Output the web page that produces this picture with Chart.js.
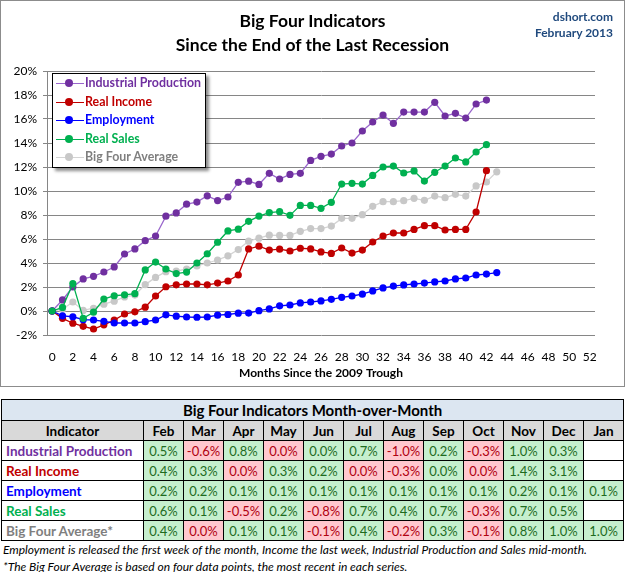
<!DOCTYPE html>
<html>
<head>
<meta charset="utf-8">
<script src="https://cdn.jsdelivr.net/npm/chart.js@4.4.0/dist/chart.umd.min.js"></script>
<style>
  body { margin: 0; background: #fff; font-family: Lato, "Noto Sans", sans-serif; }
  #page { position: relative; width: 625px; height: 572px; overflow: hidden; }
  #box { position: absolute; left: 0; top: 0; width: 623px; height: 385px; border: 1px solid #8c8c8c; }
  #grafico { position: absolute; left: 0; top: 0; }
  #titulo { position: absolute; left: 0; top: 9px; width: 625px; text-align: center; font-weight: bold; font-size: 17.5px; line-height: 24px; color: #000; }
  #fuente { position: absolute; right: 12px; top: 9px; text-align: right; font-weight: bold; font-size: 12px; line-height: 16px; color: #1F497D; }
  #leyenda { position: absolute; left: 52px; top: 73px; width: 152px; height: 93px; border: 1px solid #000; background: #fff; box-shadow: 3px 3px 3px rgba(0,0,0,0.45); }
  .item { position: absolute; left: 0; width: 152px; height: 18px; }
  .item .linea { position: absolute; left: 3px; top: 9px; width: 28px; height: 1px; }
  .item .punto { position: absolute; left: 12px; top: 5px; width: 8px; height: 8px; border-radius: 50%; }
  .item span { position: absolute; left: 32px; top: 0; font-size: 12.4px; line-height: 18px; font-weight: bold; white-space: nowrap; }
  #tabla { position: absolute; left: 1px; top: 399px; border-collapse: collapse; table-layout: fixed; width: 622px; }
  #tabla td, #tabla th { border: 1px solid #000; padding: 0; text-align: center; font-size: 13px; height: 19px; white-space: nowrap; overflow: hidden; }
  #tabla .cab td { background: #DCE6F1; font-weight: bold; font-size: 15px; height: 20px; }
  #tabla .enc th { background: #D9D9D9; font-weight: bold; font-size: 13.5px; height: 19px; }
  #tabla td.nombre { text-align: left; padding-left: 4px; font-weight: bold; font-size: 13.5px; }
  #tabla td.sube { background: #C6EFCE; color: #1E6B1E; }
  #tabla td.baja { background: #FFC7CE; color: #B00010; }
  #notas { position: absolute; left: 3px; top: 541px; font-style: italic; font-size: 12px; line-height: 17px; color: #000; white-space: nowrap; }
</style>
</head>
<body>
<div id="page">
  <div id="box"></div>
  <canvas id="grafico" width="625" height="386"></canvas>
  <div id="titulo">Big Four Indicators<br>Since the End of the Last Recession</div>
  <div id="fuente">dshort.com<br>February 2013</div>
  <div id="leyenda"></div>
  <table id="tabla"></table>
  <div id="notas">Employment is released the first week of the month, Income the last week, Industrial Production and Sales mid-month.<br>*The Big Four Average is based on four data points, the most recent in each series.</div>
</div>
<script>
const meses = ["0","1","2","3","4","5","6","7","8","9","10","11","12","13","14","15","16","17","18","19","20",
  "21","22","23","24","25","26","27","28","29","30","31","32","33","34","35","36","37","38","39","40",
  "41","42","43","44","45","46","47","48","49","50","51","52"];

// cumulative % change since the June 2009 trough
const industrial = [0, 0.92, 2.0, 2.67, 2.89, 3.25, 3.67, 4.75, 5.17, 5.86, 6.25, 7.9, 8.17, 8.9, 9.08, 9.6, 9.2, 9.5,
  10.72, 10.82, 10.55, 11.47, 11.0, 11.38, 11.47, 12.55, 12.89, 13.08, 13.75, 14.0, 15.0, 15.75, 16.33, 15.64,
  16.58, 16.58, 16.58, 17.39, 16.25, 16.47, 16.08, 17.25, 17.58];
const income = [0, -0.61, -1.02, -1.28, -1.5, -1.15, -0.76, -0.25, -0.07, 0.32, 1.25, 2.02, 2.18, 2.25, 2.25, 2.18,
  2.33, 2.5, 3.0, 5.17, 5.4, 5.08, 5.15, 5.0, 5.23, 5.17, 4.92, 4.8, 5.25, 4.83, 5.08, 5.75, 6.25, 6.5, 6.5, 6.8,
  7.11, 7.11, 6.75, 6.8, 6.8, 8.25, 11.69];
const employment = [0, -0.4, -0.48, -0.72, -0.75, -0.86, -1.0, -1.0, -1.0, -0.89, -0.75, -0.32, -0.43, -0.5, -0.52,
  -0.5, -0.35, -0.29, -0.18, -0.17, 0.03, 0.17, 0.43, 0.5, 0.67, 0.75, 0.84, 0.97, 1.14, 1.25, 1.4, 1.67, 1.92,
  2.08, 2.17, 2.25, 2.33, 2.42, 2.5, 2.67, 2.75, 3.0, 3.08, 3.2];
const sales = [0, 0.3, 2.28, -0.61, -0.1, 1.0, 1.27, 1.35, 1.44, 3.42, 4.08, 3.5, 3.12, 3.24, 4.0, 4.77, 5.73, 6.67,
  6.82, 7.47, 7.91, 8.2, 8.28, 7.97, 8.8, 8.8, 8.56, 9.06, 10.58, 10.64, 10.58, 11.3, 12.0, 12.08, 11.5, 11.67,
  10.83, 11.56, 12.08, 12.75, 12.42, 13.25, 13.86];
const average = [0, 0.15, 0.75, 0.05, 0.23, 0.57, 0.82, 1.17, 1.33, 2.2, 2.8, 3.28, 3.33, 3.5, 3.75, 4.0, 4.25, 4.6,
  5.12, 5.82, 6.07, 6.32, 6.3, 6.3, 6.64, 6.87, 6.87, 7.08, 7.72, 7.72, 8.03, 8.72, 9.11, 9.11, 9.19, 9.39, 9.22,
  9.58, 9.44, 9.72, 9.58, 10.42, 10.75, 11.6];

const nombres = ["Industrial Production", "Real Income", "Employment", "Real Sales", "Big Four Average"];
const series = [industrial, income, employment, sales, average];
const colorTexto = ["#7030A0", "#C00000", "#0000FF", "#00B050", "#7F7F7F"];
const colorPunto = ["#7030A0", "#C00000", "#0000FF", "#00B050", "#C8C8C8"];
const colorLinea = ["#9966CC", "#C00000", "#0000FF", "#00B050", "#D4D4D4"];
const orden = [3, 2, 1, 0, 4];

// month-over-month table
const tablaMeses = ["Feb", "Mar", "Apr", "May", "Jun", "Jul", "Aug", "Sep", "Oct", "Nov", "Dec", "Jan"];
const tablaNombres = ["Industrial Production", "Real Income", "Employment", "Real Sales", "Big Four Average*"];
const industrialMoM = [0.5, -0.6, 0.8, 0.0, 0.0, 0.7, -1.0, 0.2, -0.3, 1.0, 0.3, null];
const industrialBaja = [0, 1, 0, 1, 0, 0, 1, 0, 1, 0, 0, 0];
const incomeMoM = [0.4, 0.3, 0.0, 0.3, 0.2, 0.0, -0.3, 0.0, 0.0, 1.4, 3.1, null];
const incomeBaja = [0, 0, 1, 0, 0, 1, 1, 0, 1, 0, 0, 0];
const employmentMoM = [0.2, 0.2, 0.1, 0.1, 0.1, 0.1, 0.1, 0.1, 0.1, 0.2, 0.1, 0.1];
const employmentBaja = [0, 0, 0, 0, 0, 0, 0, 0, 0, 0, 0, 0];
const salesMoM = [0.6, 0.1, -0.5, 0.2, -0.8, 0.7, 0.4, 0.7, -0.3, 0.7, 0.5, null];
const salesBaja = [0, 0, 1, 0, 1, 0, 0, 0, 1, 0, 0, 0];
const averageMoM = [0.4, 0.0, 0.1, 0.1, -0.1, 0.4, -0.2, 0.3, -0.1, 0.8, 1.0, 1.0];
const averageBaja = [0, 1, 0, 0, 1, 0, 1, 0, 1, 0, 0, 0];
const tablaValores = [industrialMoM, incomeMoM, employmentMoM, salesMoM, averageMoM];
const tablaBajas = [industrialBaja, incomeBaja, employmentBaja, salesBaja, averageBaja];

// legend
const leyenda = document.getElementById("leyenda");
nombres.forEach((n, i) => {
  const div = document.createElement("div");
  div.className = "item";
  div.style.top = (0 + i * 18.5) + "px";
  div.innerHTML = `
    <div class="linea" style="background:${colorLinea[i]}"></div>
    <div class="punto" style="background:${colorPunto[i]}"></div>
    <span style="color:${colorTexto[i]}">${n}</span>`;
  leyenda.appendChild(div);
});

// table
let html = `<colgroup><col style="width:142px">${tablaMeses.map(() => '<col style="width:40px">').join("")}</colgroup>`;
html += `<tr class="cab"><td colspan="13">Big Four Indicators Month-over-Month</td></tr>`;
html += `<tr class="enc"><th>Indicator</th>${tablaMeses.map(m => `<th>${m}</th>`).join("")}</tr>`;
tablaNombres.forEach((n, i) => {
  html += `<tr><td class="nombre" style="color:${colorTexto[i]}">${n}</td>`;
  tablaValores[i].forEach((v, j) => {
    if (v === null) { html += "<td></td>"; return; }
    const clase = tablaBajas[i][j] ? "baja" : "sube";
    html += `<td class="${clase}">${v.toFixed(1)}%</td>`;
  });
  html += "</tr>";
});
document.getElementById("tabla").innerHTML = html;

// chart
new Chart(document.getElementById("grafico"), {
  type: "line",
  data: {
    labels: meses,
    datasets: series.map((d, i) => ({
      label: nombres[i],
      data: d,
      order: orden[i],
      borderColor: colorLinea[i],
      borderWidth: 1.3,
      pointRadius: 3.6,
      pointBorderWidth: 0,
      pointBackgroundColor: colorPunto[i],
      pointBorderColor: colorPunto[i],
      tension: 0,
      fill: false
    }))
  },
  options: {
    responsive: false,
    animation: false,
    layout: { padding: { top: 71, right: 30, left: 0, bottom: 0 } },
    plugins: { legend: { display: false }, tooltip: { enabled: false } },
    scales: {
      x: {
        type: "category",
        offset: true,
        grid: { display: false },
        border: { display: false },
        ticks: {
          autoSkip: false, maxRotation: 0, color: "#000", font: { family: "Lato", size: 12 }, padding: 7,
          callback: (v, i) => i % 2 === 0 ? meses[i] : ""
        },
        title: {
          display: true, text: "Months Since the 2009 Trough", color: "#000",
          font: { family: "Lato", size: 12, weight: "bold" }, padding: { top: 0, bottom: 6 }
        },
        afterFit: s => { s.height = 51; }
      },
      y: {
        min: -2, max: 20,
        ticks: { stepSize: 2, color: "#000", font: { family: "Lato", size: 12 }, padding: 6, callback: v => v + "%" },
        grid: { color: "#868686", tickLength: 4 },
        border: { color: "#868686" },
        afterFit: s => { s.width = 47; }
      }
    }
  }
});
</script>
</body>
</html>
